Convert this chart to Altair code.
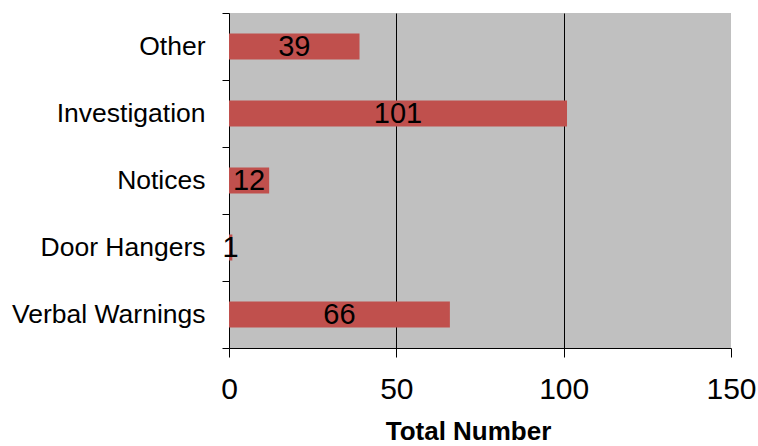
import altair as alt
import pandas as pd

# Counts by action type, listed top to bottom
categories = ["Other", "Investigation", "Notices", "Door Hangers", "Verbal Warnings"]
totals = [39, 101, 12, 1, 66]
x_ticks = [0, 50, 100, 150]

FONT = "Liberation Sans"
BAR_RED = "#C0504D"
PLOT_GRAY = "#C0C0C0"

df = pd.DataFrame({"category": categories, "total": totals})

y_enc = alt.Y(
    "category:N",
    sort=categories,
    scale=alt.Scale(paddingInner=0, paddingOuter=0),
    axis=alt.Axis(
        title=None,
        tickBand="extent",
        domainColor="black",
        tickColor="black",
        tickSize=7,
        labelPadding=17,
        labelFont=FONT,
        labelFontSize=26.5,
        labelColor="black",
        labelLimit=0,
        grid=False,
    ),
)

x_enc = alt.X(
    "total:Q",
    scale=alt.Scale(domain=[0, 150], nice=False),
    axis=alt.Axis(
        title="Total Number",
        values=x_ticks,
        domainColor="black",
        tickColor="black",
        tickSize=9,
        labelPadding=17,
        labelFont=FONT,
        labelFontSize=30,
        labelColor="black",
        labelFlush=False,
        grid=True,
        gridColor="black",
        gridWidth=1,
        gridOpacity={"condition": {"test": "datum.value == 150 || datum.value == 0", "value": 0}, "value": 1},
        titleFont=FONT,
        titleFontSize=26,
        titleFontWeight="bold",
        titleColor="black",
        titleBaseline="alphabetic",
        titleAnchor="start",
        titleAlign="center",
        titleX=239,
        titleY=91,
    ),
)

bars = alt.Chart(df).mark_bar(color=BAR_RED, size=26).encode(x=x_enc, y=y_enc)

labels = (
    alt.Chart(df)
    .transform_calculate(mid="datum.total / 2")
    .mark_text(font=FONT, fontSize=29, color="black", baseline="middle", align="center")
    .encode(
        x=alt.X("mid:Q"),
        y=alt.Y("category:N", sort=categories),
        text=alt.Text("total:Q"),
    )
)

chart = (
    alt.layer(bars, labels)
    .properties(
        width=502,
        height=335,
        autosize=alt.AutoSizeParams(type="none"),
        padding={"left": 229, "top": 13, "right": 27, "bottom": 98},
        background="white",
    )
    .configure_view(fill=PLOT_GRAY, stroke=None)
)

chart.save("out.html", embed_options={"renderer": "svg", "actions": False})
